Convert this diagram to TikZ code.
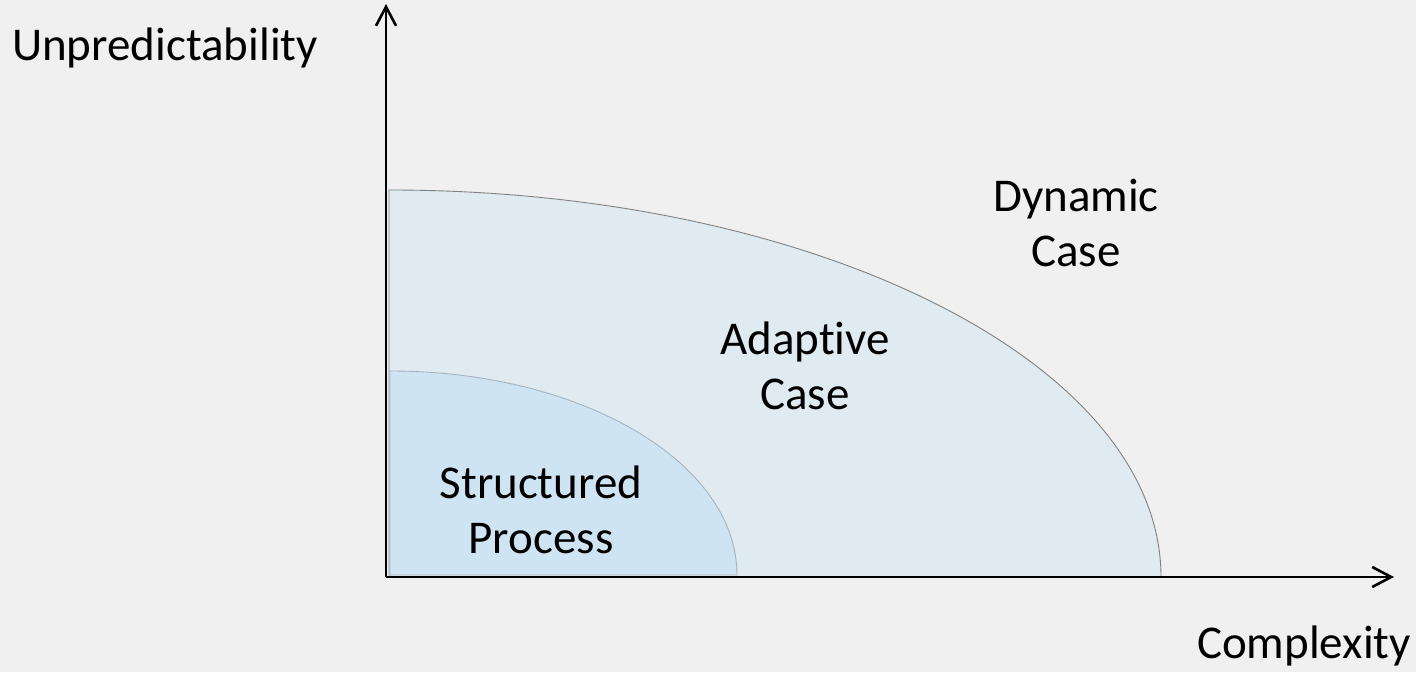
\documentclass[tikz,border=0pt]{standalone}
\usepackage{fontspec}
\setmainfont{Carlito}[RawFeature=-liga]
\usetikzlibrary{arrows.meta}
\definecolor{bgc}{RGB}{240,240,240}
\definecolor{outerfill}{RGB}{223,234,241}
\definecolor{innerfill}{RGB}{207,228,243}
\definecolor{outeredge}{RGB}{130,130,130}
\definecolor{inneredge}{RGB}{165,180,192}
\tikzset{
  axis/.style={line width=2.6pt, -{Straight Barb[length=19pt,width=20pt,line width=2.6pt]}},
  lbl/.style={font=\fontsize{47}{55}\selectfont, align=center, inner sep=0pt, anchor=base, text=black},
}
\begin{document}
\begin{tikzpicture}[x=1pt,y=1pt]
\useasboundingbox[fill=bgc] (0,0) rectangle (1416,672);
% regions
\fill[outerfill, draw=outeredge, line width=0.9pt] (389,95) -- (389,482) arc[start angle=90, end angle=0, x radius=772, y radius=387] -- cycle;
\fill[innerfill, draw=inneredge, line width=0.9pt] (390,97) -- (390,301) arc[start angle=90, end angle=0, x radius=347, y radius=204] -- cycle;
% axes
\coordinate (O) at (386,95);
\coordinate (ytop) at (386,668);
\coordinate (xend) at (1394,95);
\draw[axis] (O) -- (ytop);
\draw[axis] (O) -- (xend);
% labels
\node[lbl] (unp) at (165,611) {Unpredictability};
\node[lbl] (cpx) at (1304,14) {Complexity};
\node[lbl] (dyn) at (1076,405) {Dynamic\\Case};
\node[lbl] (ada) at (805,262) {Adaptive\\Case};
\node[lbl] (str) at (541,118) {Structured\\Process};
\end{tikzpicture}
\end{document}
